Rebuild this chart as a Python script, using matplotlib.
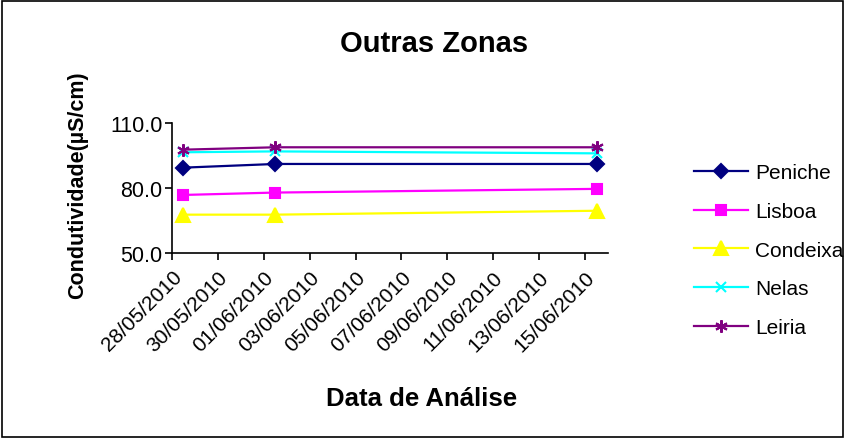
import matplotlib.pyplot as plt
import matplotlib.dates as mdates
from datetime import datetime, timedelta

# dados
datas = ["28/05/2010", "01/06/2010", "15/06/2010"]
peniche = [89.4, 91.1, 91.1]
lisboa = [76.8, 77.9, 79.6]
condeixa = [67.7, 67.7, 69.5]
nelas = [96.5, 96.9, 96.0]
leiria = [97.7, 98.8, 98.8]

plt.rcParams['font.family'] = ['Liberation Sans', 'DejaVu Sans']

dias = [datetime.strptime(d, "%d/%m/%Y") for d in datas]
# excel centra os pontos no dia
x = [d + timedelta(hours=12) for d in dias]

fig = plt.figure(figsize=(8.46, 4.39), dpi=100)
ax = fig.add_axes([0.2033, 0.4214, 0.5154, 0.2961])

series = [
    ("Peniche", peniche, "#000080", "D", 7.5),
    ("Lisboa", lisboa, "#FF00FF", "s", 7.5),
    ("Condeixa", condeixa, "#FFFF00", "^", 10),
    ("Nelas", nelas, "#00FFFF", "x", 7),
    ("Leiria", leiria, "#800080", (6, 2, 0), 9),
]
for nome, vals, cor, mk, ms in series:
    ax.plot(x, vals, color=cor, marker=mk, markersize=ms, markerfacecolor=cor,
            markeredgecolor=cor, markeredgewidth=1.5, linewidth=1.6, label=nome)

ax.set_ylim(50, 110)
ax.set_yticks([50, 80, 110])
ax.set_yticklabels(["50.0", "80.0", "110.0"], fontsize=15.5)
ax.set_xlim(datetime(2010, 5, 28), datetime(2010, 6, 16))
ax.xaxis.set_major_locator(mdates.DayLocator(bymonthday=[28, 30, 1, 3, 5, 7, 9, 11, 13, 15]))
ax.xaxis.set_major_formatter(mdates.DateFormatter("%d/%m/%Y"))
plt.setp(ax.get_xticklabels(), rotation=45, ha="right", rotation_mode="anchor", fontsize=15)
ax.tick_params(axis="both", direction="out", length=5, width=1.2, pad=2)
ax.tick_params(axis="x", pad=5)
ax.spines["top"].set_visible(False)
ax.spines["right"].set_visible(False)
ax.spines["left"].set_linewidth(1.2)
ax.spines["bottom"].set_linewidth(1.2)

fig.text(0.0922, 0.5786, "Condutividade(µS/cm)", fontsize=15.5, fontweight="bold",
         rotation=90, ha="center", va="center")
fig.text(0.513, 0.90, "Outras Zonas", fontsize=21, fontweight="bold", ha="center", va="center")
fig.text(0.498, 0.091, "Data de Análise", fontsize=18.5, fontweight="bold", ha="center", va="center")

fig.legend(loc="center left", bbox_to_anchor=(0.820, 0.428), frameon=False, fontsize=15,
           handlelength=2.6, labelspacing=0.95, handletextpad=0.35, borderpad=0, borderaxespad=0)

# moldura
fig.patches.append(plt.Rectangle((0.002, 0.003), 0.995, 0.993, transform=fig.transFigure,
                                 fill=False, edgecolor="black", linewidth=1.2))

fig.savefig("out.png", dpi=100)
